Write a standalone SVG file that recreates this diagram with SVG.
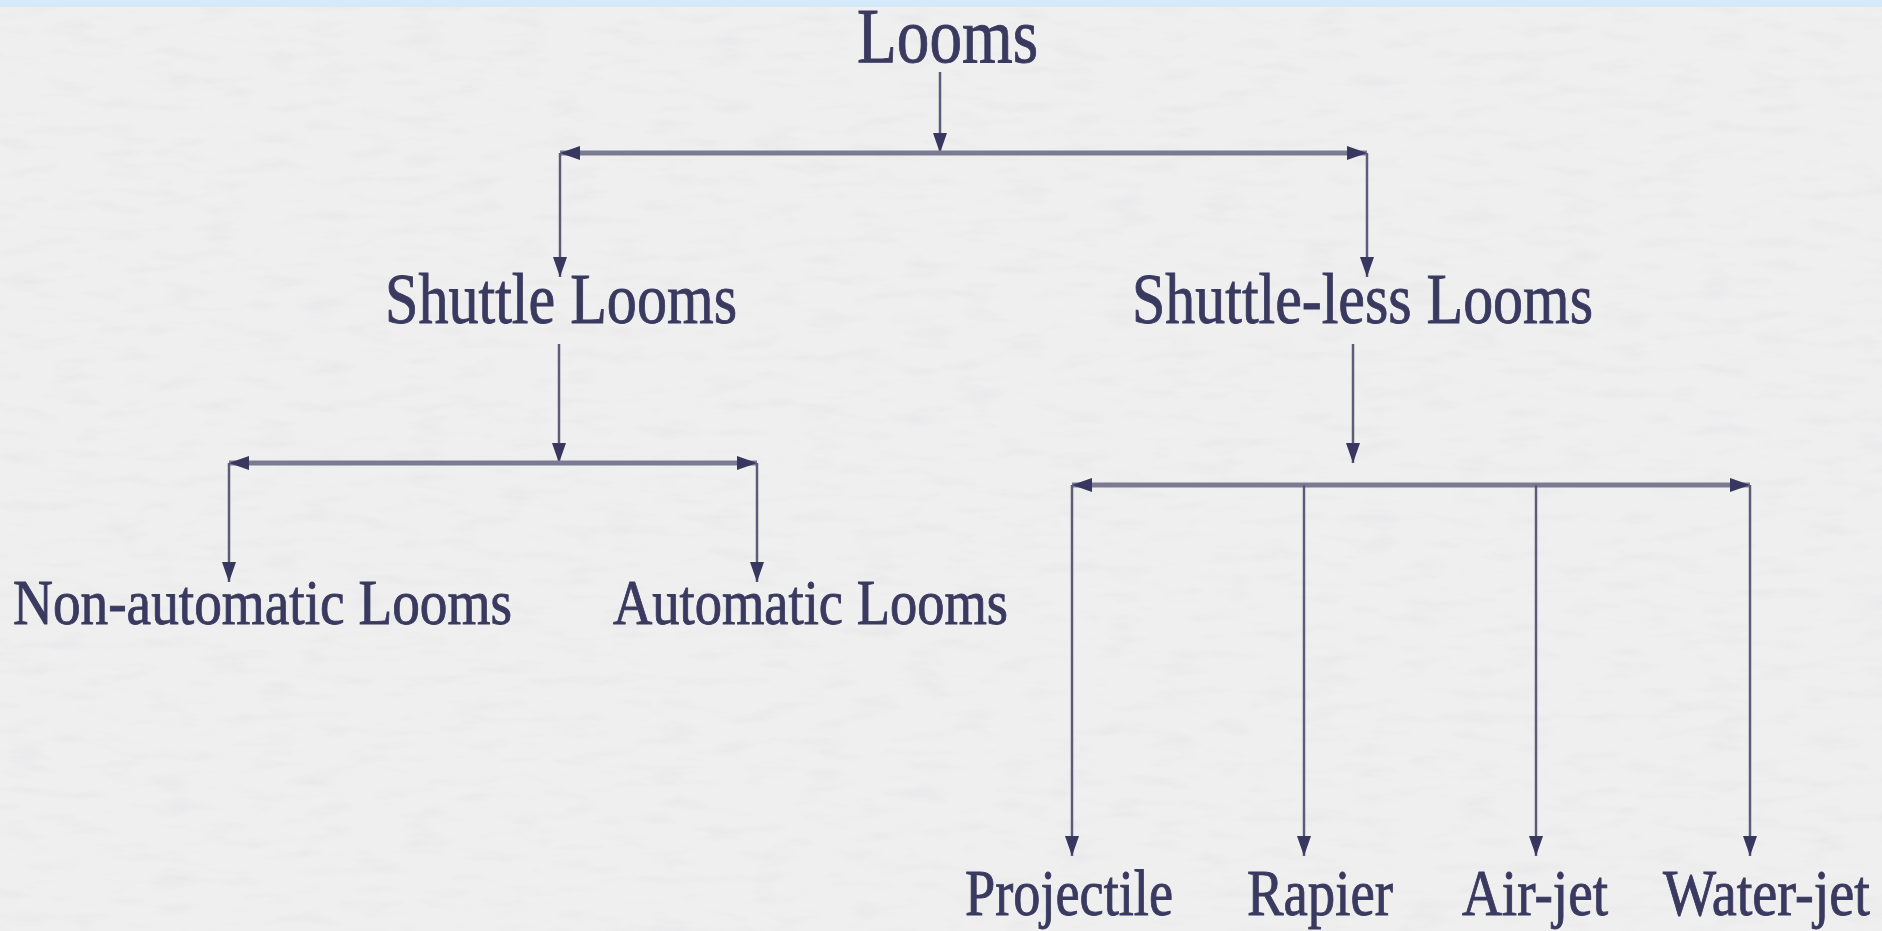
<svg xmlns="http://www.w3.org/2000/svg" width="1882" height="931" viewBox="0 0 1882 931">
<defs>
<style>
.t{font-family:"Liberation Serif","Times New Roman",serif;fill:#3a3a60;stroke:#3a3a60;stroke-width:0.9;}
.bar{stroke:#7a7a93;stroke-width:5;fill:none;}
.v{stroke:#5c5c7a;stroke-width:2.5;fill:none;}
</style>
<marker id="ah" viewBox="0 0 20 14" refX="20" refY="7" markerWidth="20" markerHeight="14" markerUnits="userSpaceOnUse" orient="auto-start-reverse">
<path d="M0,0 L20,7 L0,14 Z" fill="#373760"/>
</marker>
<filter id="paper" x="0" y="0" width="100%" height="100%">
<feTurbulence type="fractalNoise" baseFrequency="0.02 0.08" numOctaves="3" seed="4" result="n"/>
<feColorMatrix in="n" type="matrix" values="0 0 0 0 0.55  0 0 0 0 0.55  0 0 0 0 0.58  0 0 0 -0.9 0.45" result="c"/>
<feComposite in="c" in2="SourceGraphic" operator="in"/>
</filter>
</defs>
<rect x="0" y="0" width="1882" height="931" fill="#efeff0"/>
<rect x="0" y="0" width="1882" height="931" fill="#fff" filter="url(#paper)" opacity="0.35"/>
<rect x="0" y="0" width="1882" height="7" fill="#d4e9fa"/>

<g id="connectors">
<line class="v" x1="940" y1="72" x2="940" y2="153" marker-end="url(#ah)"/>
<line class="bar" x1="560" y1="153" x2="1367" y2="153" marker-start="url(#ah)" marker-end="url(#ah)"/>
<line class="v" x1="560" y1="153" x2="560" y2="277" marker-end="url(#ah)"/>
<line class="v" x1="1367" y1="153" x2="1367" y2="277" marker-end="url(#ah)"/>

<line class="v" x1="559" y1="344" x2="559" y2="463" marker-end="url(#ah)"/>
<line class="bar" x1="229" y1="463" x2="757" y2="463" marker-start="url(#ah)" marker-end="url(#ah)"/>
<line class="v" x1="229" y1="463" x2="229" y2="582" marker-end="url(#ah)"/>
<line class="v" x1="757" y1="463" x2="757" y2="582" marker-end="url(#ah)"/>

<line class="v" x1="1353" y1="344" x2="1353" y2="463" marker-end="url(#ah)"/>
<line class="bar" x1="1072" y1="485" x2="1750" y2="485" marker-start="url(#ah)" marker-end="url(#ah)"/>
<line class="v" x1="1072" y1="485" x2="1072" y2="856" marker-end="url(#ah)"/>
<line class="v" x1="1304" y1="485" x2="1304" y2="856" marker-end="url(#ah)"/>
<line class="v" x1="1536" y1="485" x2="1536" y2="856" marker-end="url(#ah)"/>
<line class="v" x1="1750" y1="485" x2="1750" y2="856" marker-end="url(#ah)"/>
</g>

<g id="looms"><text class="t" x="857" y="62" font-size="79" textLength="181" lengthAdjust="spacingAndGlyphs">Looms</text></g>
<g id="shuttle-looms"><text class="t" x="385" y="323" font-size="72" textLength="352" lengthAdjust="spacingAndGlyphs">Shuttle Looms</text></g>
<g id="shuttle-less-looms"><text class="t" x="1132" y="323" font-size="72" textLength="461" lengthAdjust="spacingAndGlyphs">Shuttle-less Looms</text></g>
<g id="non-automatic-looms"><text class="t" x="13" y="624" font-size="64" textLength="499" lengthAdjust="spacingAndGlyphs">Non-automatic Looms</text></g>
<g id="automatic-looms"><text class="t" x="613" y="624" font-size="64" textLength="395" lengthAdjust="spacingAndGlyphs">Automatic Looms</text></g>
<g id="projectile"><text class="t" x="965" y="915" font-size="65" textLength="208" lengthAdjust="spacingAndGlyphs">Projectile</text></g>
<g id="rapier"><text class="t" x="1247" y="915" font-size="65" textLength="146" lengthAdjust="spacingAndGlyphs">Rapier</text></g>
<g id="air-jet"><text class="t" x="1462" y="915" font-size="65" textLength="146" lengthAdjust="spacingAndGlyphs">Air-jet</text></g>
<g id="water-jet"><text class="t" x="1663" y="915" font-size="65" textLength="207" lengthAdjust="spacingAndGlyphs">Water-jet</text></g>
</svg>
